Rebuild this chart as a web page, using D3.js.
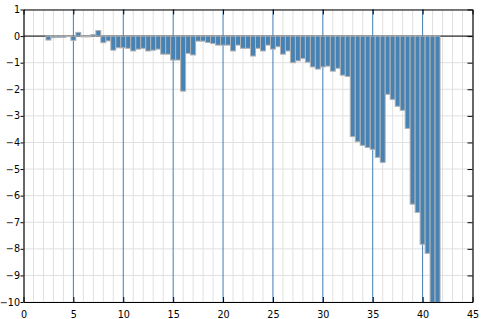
<!DOCTYPE html>
<html>
<head>
<meta charset="utf-8">
<script src="https://cdn.jsdelivr.net/npm/d3@7"></script>
<style>
  body { margin: 0; background: #fff; }
  text { font-family: "DejaVu Sans", sans-serif; font-size: 9.6px; fill: #000; }
</style>
</head>
<body>
<div id="chart"></div>
<script>
// bar centres (x) and heights
var positions = [2.5, 3, 3.5, 4, 4.5, 5, 5.5, 6, 6.5, 7, 7.5, 8, 8.5, 9, 9.5, 10,
  10.5, 11, 11.5, 12, 12.5, 13, 13.5, 14, 14.5, 15, 15.5, 16, 16.5, 17, 17.5, 18,
  18.5, 19, 19.5, 20, 20.5, 21, 21.5, 22, 22.5, 23, 23.5, 24, 24.5, 25, 25.5, 26,
  26.5, 27, 27.5, 28, 28.5, 29, 29.5, 30, 30.5, 31, 31.5, 32, 32.5, 33, 33.5, 34,
  34.5, 35, 35.5, 36, 36.5, 37, 37.5, 38, 38.5, 39, 39.5, 40, 40.5, 41, 41.5];
var values = [-0.15, -0.06, -0.05, -0.05, -0.02, -0.16, 0.14, -0.03, -0.03, 0.06, 0.21, -0.25, -0.18, -0.53, -0.44, -0.44,
  -0.46, -0.56, -0.49, -0.46, -0.56, -0.53, -0.49, -0.68, -0.68, -0.90, -0.90, -2.07, -0.65, -0.71, -0.19, -0.19,
  -0.24, -0.28, -0.34, -0.34, -0.34, -0.56, -0.34, -0.46, -0.46, -0.75, -0.46, -0.56, -0.34, -0.49, -0.40, -0.68,
  -0.56, -1.00, -0.93, -0.84, -0.98, -1.16, -1.24, -1.16, -1.13, -1.32, -1.21, -1.47, -1.52, -3.78, -3.97, -4.11,
  -4.19, -4.26, -4.56, -4.75, -2.19, -2.38, -2.64, -2.79, -3.47, -6.32, -6.63, -7.83, -8.17, -10.6, -11.2];
var barWidth = 0.5;

var xTicks = [0, 5, 10, 15, 20, 25, 30, 35, 40, 45];
var xMinor = [1, 2, 3, 4, 6, 7, 8, 9, 11, 12, 13, 14, 16, 17, 18, 19, 21, 22, 23, 24,
  26, 27, 28, 29, 31, 32, 33, 34, 36, 37, 38, 39, 41, 42, 43, 44];
var yTicks = [1, 0, -1, -2, -3, -4, -5, -6, -7, -8, -9, -10];

var W = 484, H = 319;
var x = d3.scaleLinear().domain([0, 45]).range([23.5, 472.5]);
var y = d3.scaleLinear().domain([-10, 1]).range([302, 9.5]);

var svg = d3.select("#chart").append("svg")
    .attr("width", W)
    .attr("height", H);

svg.append("clipPath").attr("id", "plot")
  .append("rect")
    .attr("x", x(0)).attr("y", y(1))
    .attr("width", x(45) - x(0)).attr("height", y(-10) - y(1));

// grid
svg.append("g").selectAll("line")
  .data(yTicks)
  .enter().append("line")
    .attr("x1", x(0)).attr("x2", x(45))
    .attr("y1", function(d) { return y(d); })
    .attr("y2", function(d) { return y(d); })
    .attr("stroke", "#e0e0e0");

svg.append("g").selectAll("line")
  .data(xMinor)
  .enter().append("line")
    .attr("x1", function(d) { return x(d); })
    .attr("x2", function(d) { return x(d); })
    .attr("y1", y(1)).attr("y2", y(-10))
    .attr("stroke", "#e0e0e0");

svg.append("g").selectAll("line")
  .data(xTicks.slice(1, -1))
  .enter().append("line")
    .attr("x1", function(d) { return x(d); })
    .attr("x2", function(d) { return x(d); })
    .attr("y1", y(1)).attr("y2", y(-10))
    .attr("stroke", "#3f7db8");

// zero line
svg.append("line")
    .attr("x1", x(0)).attr("x2", x(45))
    .attr("y1", y(0)).attr("y2", y(0))
    .attr("stroke", "#000");

// bars
svg.append("g")
    .attr("clip-path", "url(#plot)")
  .selectAll("rect")
  .data(values)
  .enter().append("rect")
    .attr("x", function(d, i) { return x(positions[i] - barWidth / 2); })
    .attr("width", function(d, i) { return x(positions[i] + barWidth / 2) - x(positions[i] - barWidth / 2); })
    .attr("y", function(d) { return y(Math.max(0, d)); })
    .attr("height", function(d) { return Math.abs(y(d) - y(0)); })
    .attr("fill", "#4682b4")
    .attr("stroke", "#b3b3b3")
    .attr("stroke-width", 1);

// axes
var fmt = d3.format("d");
svg.append("g")
    .attr("transform", "translate(0," + y(-10) + ")")
    .call(d3.axisBottom(x).tickValues(xTicks).tickFormat(fmt).tickSizeInner(-5).tickSizeOuter(0).tickPadding(9));

svg.append("g")
    .attr("transform", "translate(0," + y(1) + ")")
    .call(d3.axisTop(x).tickValues(xTicks).tickFormat("").tickSizeInner(-5).tickSizeOuter(0));

svg.append("g")
    .attr("transform", "translate(" + x(0) + ",0)")
    .call(d3.axisLeft(y).tickValues(yTicks).tickFormat(fmt).tickSizeInner(3).tickSizeOuter(0).tickPadding(0.5));

svg.append("g")
    .attr("transform", "translate(" + x(45) + ",0)")
    .call(d3.axisRight(y).tickValues(yTicks).tickFormat("").tickSizeInner(-5).tickSizeOuter(0));

svg.selectAll(".domain").attr("stroke", "#000").attr("stroke-width", 1.2);
svg.selectAll(".tick line").attr("stroke", "#000");
svg.selectAll(".tick text").attr("font-family", null).attr("font-size", null).attr("fill", null);
</script>
</body>
</html>
